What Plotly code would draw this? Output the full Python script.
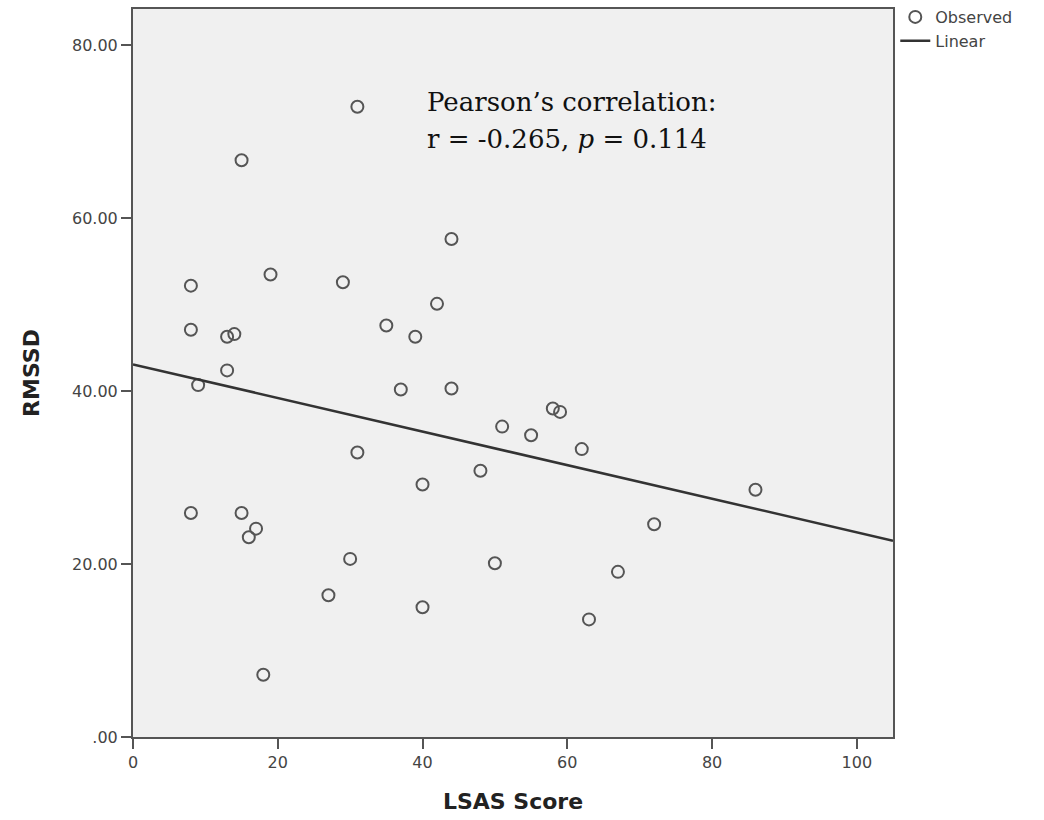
import plotly.graph_objects as go

# LSAS Score (x) and RMSSD (y)
lsas = [8, 8, 8, 9, 13, 13, 14, 15, 15, 16, 17, 18, 19, 27, 29, 30, 31, 31, 35,
        37, 39, 40, 40, 42, 44, 44, 48, 50, 51, 55, 58, 59, 62, 63, 67, 72, 86]
rmssd = [52.2, 47.1, 25.9, 40.7, 46.3, 42.4, 46.6, 66.7, 25.9, 23.1, 24.1, 7.2,
         53.5, 16.4, 52.6, 20.6, 72.9, 32.9, 47.6, 40.2, 46.3, 29.2, 15.0, 50.1,
         57.6, 40.3, 30.8, 20.1, 35.9, 34.9, 38.0, 37.6, 33.3, 13.6, 19.1, 24.6, 28.6]

# Linear fit line as drawn (endpoints)
fit_x = [0, 105]
fit_y = [43.1, 22.7]

x_ticks = [0, 20, 40, 60, 80, 100]
y_ticks = [0, 20, 40, 60, 80]
y_tick_labels = [".00", "20.00", "40.00", "60.00", "80.00"]

fig = go.Figure()
fig.add_trace(go.Scatter(
    x=lsas, y=rmssd, mode="markers", name="Observed",
    marker=dict(symbol="circle-open", size=12, color="#555555", line=dict(width=2)),
))
fig.add_trace(go.Scatter(
    x=fit_x, y=fit_y, mode="lines", name="Linear",
    line=dict(color="#333333", width=2.5),
))

fig.add_annotation(x=0.384, y=1 - (102 - 9) / 728, xref="paper", yref="paper",
                   text="Pearson’s correlation:", showarrow=False,
                   xanchor="left", yanchor="middle",
                   font=dict(family="DejaVu Serif", size=26, color="#111111"))
fig.add_annotation(x=0.384, y=1 - (139 - 9) / 728, xref="paper", yref="paper",
                   text="r = -0.265, <i>p</i> = 0.114", showarrow=False,
                   xanchor="left", yanchor="middle",
                   font=dict(family="DejaVu Serif", size=26, color="#111111"))

axis_common = dict(
    showline=True, mirror=True, linecolor="#555555", linewidth=2,
    showgrid=False, zeroline=False, ticks="outside", ticklen=10,
    tickcolor="#555555", tickwidth=2,
    tickfont=dict(family="DejaVu Sans", size=16, color="#444444"),
)

fig.update_layout(
    width=1044, height=820,
    margin=dict(l=133, r=151, t=9, b=83, autoexpand=False),
    paper_bgcolor="white", plot_bgcolor="#f0f0f0",
    xaxis=dict(range=[0, 105], tickvals=x_ticks,
               title=dict(text="<b>LSAS Score</b>", standoff=22,
                          font=dict(family="DejaVu Sans", size=22, color="#222222")),
               automargin=False, **axis_common),
    yaxis=dict(range=[0, 84.2], tickvals=y_ticks, ticktext=y_tick_labels,
               title=dict(text="<b>RMSSD</b>", standoff=26,
                          font=dict(family="DejaVu Sans", size=22, color="#222222")),
               automargin=False, **axis_common),
    legend=dict(x=1.003, y=1.0, xanchor="left", yanchor="top", yref="container",
                font=dict(family="DejaVu Sans", size=16, color="#444444"),
                bgcolor="rgba(0,0,0,0)", tracegroupgap=0),
    showlegend=True,
)

fig.write_html("out.html")
